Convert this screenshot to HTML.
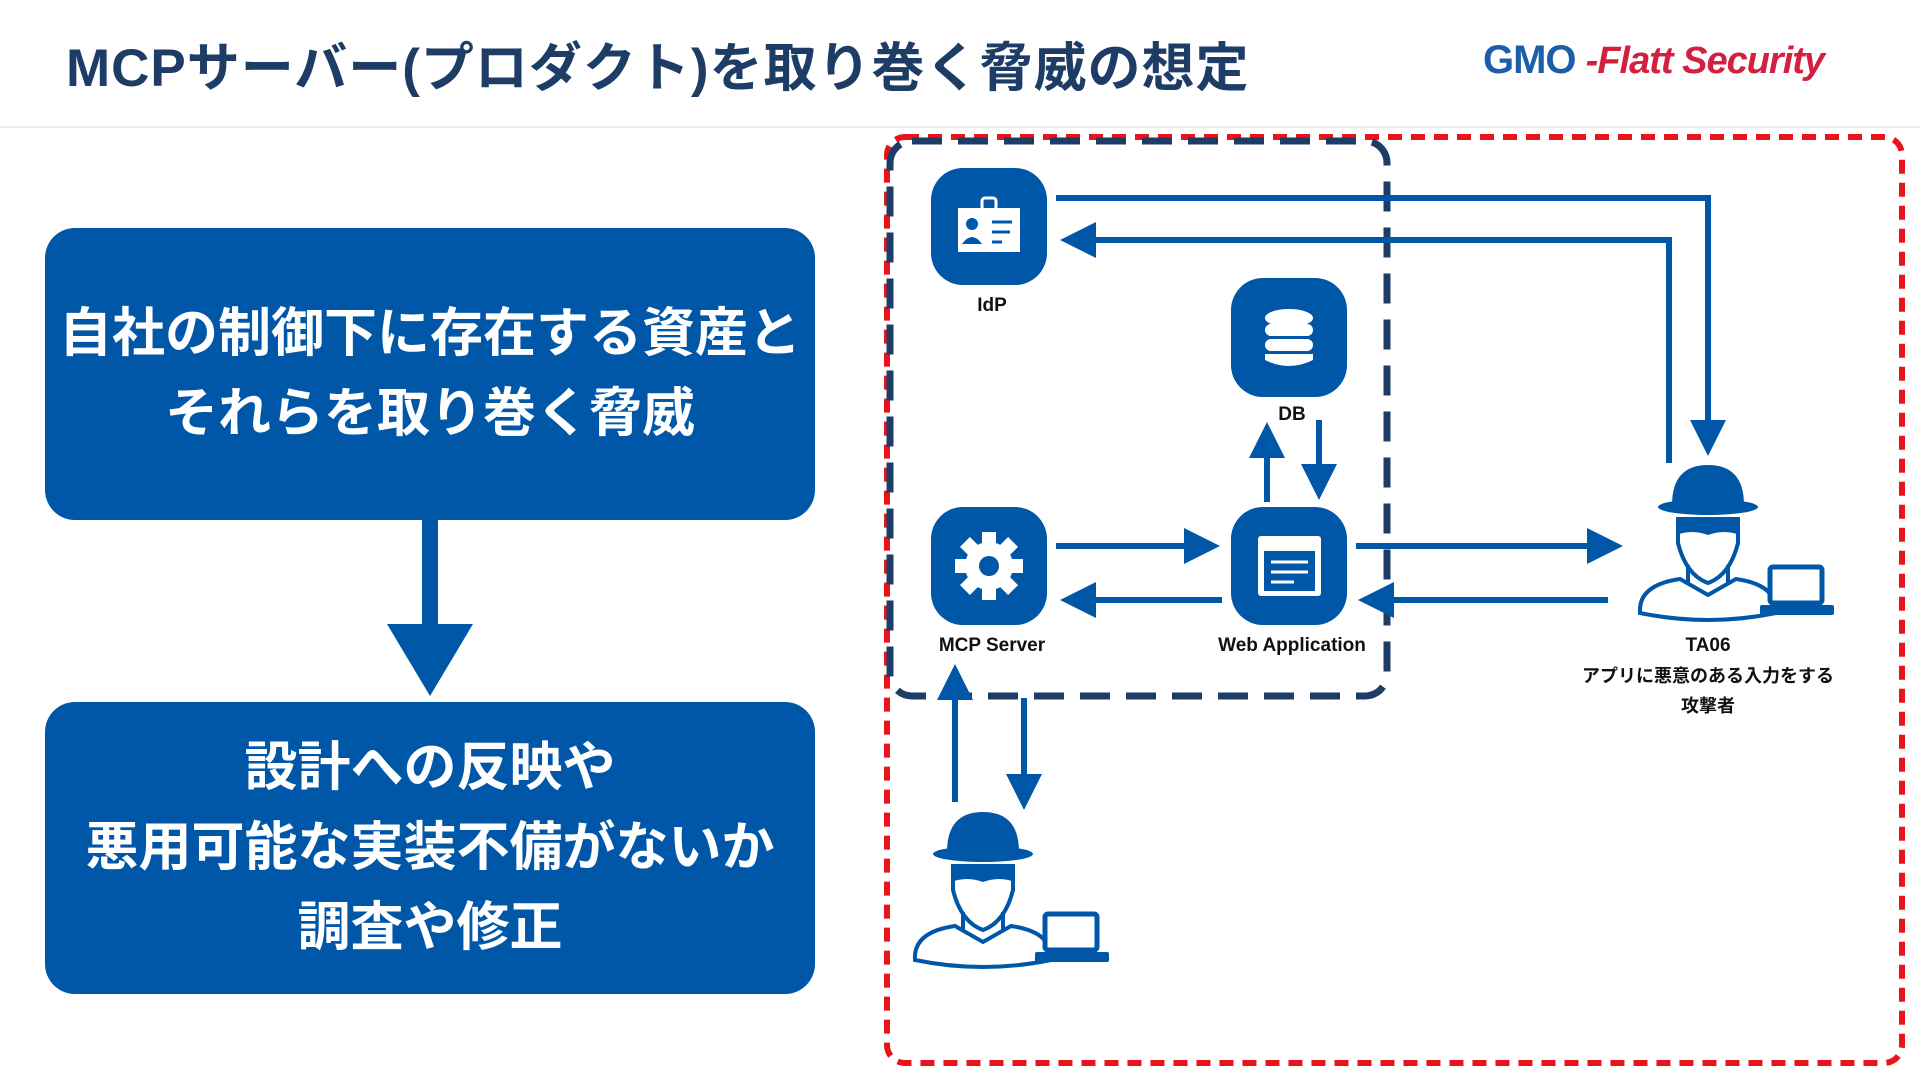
<!DOCTYPE html>
<html><head><meta charset="utf-8"><style>
body{margin:0;width:1920px;height:1080px;background:#fff;position:relative;overflow:hidden;font-family:"Liberation Sans","Noto Sans CJK JP",sans-serif}
.t{position:absolute;left:66px;top:26px;font-size:53px;font-weight:bold;color:#1d3c66;letter-spacing:1px}
.hl{position:absolute;left:0;top:126px;width:1920px;height:2px;background:#eee}
.box{position:absolute;left:45px;width:770px;height:292px;background:#0057a8;border-radius:30px;color:#fff;font-weight:bold;font-size:53px;text-align:center;display:flex;flex-direction:column;justify-content:center;line-height:80px}
.logo{position:absolute;left:1483px;top:38px;font-weight:bold;font-size:40px;color:#1d5ea8;letter-spacing:-1px}
.logo i{color:#d3203f;font-size:38px}
</style></head><body>
<div class="t">MCPサーバー(プロダクト)を取り巻く脅威の想定</div>
<div class="logo">GMO <i>-Flatt Security</i></div>
<div class="hl"></div>
<div class="box" style="top:228px">自社の制御下に存在する資産と<br>それらを取り巻く脅威</div>
<div class="box" style="top:702px">設計への反映や<br>悪用可能な実装不備がないか<br>調査や修正</div>
<svg width="1920" height="1080" style="position:absolute;left:0;top:0" font-family="Liberation Sans, Noto Sans CJK JP, sans-serif">
<defs>
<g id="atk">
<path d="M-36 40 Q-36 0 0 0 Q36 0 36 40 Z" fill="#0057a8"/>
<ellipse cx="0" cy="42" rx="50" ry="8" fill="#0057a8"/>
<path d="M-30 52 L-30 78 Q-22 110 0 118 Q22 110 30 78 L30 52" fill="none" stroke="#0057a8" stroke-width="4"/>
<path d="M-32 52 L32 52 L32 70 Q16 64 0 70 Q-16 64 -32 70 Z" fill="#0057a8"/>
<path d="M-20 100 L-20 118 M20 100 L20 118" stroke="#0057a8" stroke-width="4"/>
<path d="M-68 148 Q-70 120 -28 114 L0 130 L28 114 Q70 120 68 148 Q0 162 -68 148 Z" fill="none" stroke="#0057a8" stroke-width="4"/>
<rect x="62" y="102" width="52" height="36" rx="3" fill="#fff" stroke="#0057a8" stroke-width="5"/>
<rect x="52" y="140" width="74" height="10" rx="2" fill="#0057a8"/>
</g>
<marker id="ah" markerWidth="6" markerHeight="6" refX="2" refY="3" orient="auto" markerUnits="strokeWidth"><path d="M0 0 L6 3 L0 6 Z" fill="#0057a8"/></marker>
</defs>
<rect x="422" y="520" width="16" height="106" fill="#0057a8"/>
<path d="M387 624 L473 624 L430 696 Z" fill="#0057a8"/>
<rect x="887" y="137" width="1015" height="926" rx="18" fill="none" stroke="#e8141b" stroke-width="6" stroke-dasharray="14 9"/>
<rect x="890" y="141" width="497" height="555" rx="22" fill="none" stroke="#1d3c66" stroke-width="7" stroke-dasharray="30 16"/>
<g fill="#0057a8">
<rect x="931" y="168" width="116" height="117" rx="32"/>
<rect x="1231" y="278" width="116" height="119" rx="32"/>
<rect x="931" y="507" width="116" height="118" rx="32"/>
<rect x="1231" y="507" width="116" height="118" rx="32"/>
</g>
<rect x="958" y="208" width="62" height="44" fill="#fff"/>
<rect x="982" y="198" width="14" height="12" rx="3" fill="none" stroke="#fff" stroke-width="3"/>
<circle cx="972" cy="224" r="6" fill="#0057a8"/><path d="M962 244 Q972 230 982 244 Z" fill="#0057a8"/>
<path d="M992 222 H1012 M992 232 H1010 M992 242 H1002" stroke="#0057a8" stroke-width="3"/>
<g fill="#fff"><ellipse cx="1289" cy="318" rx="24" ry="9"/><rect x="1265" y="324" width="48" height="12" rx="6"/><rect x="1265" y="339" width="48" height="12" rx="6"/><path d="M1265 354 H1313 V360 Q1289 372 1265 360 Z"/></g>
<g transform="translate(989,566)" fill="#fff">
<circle r="24"/>
<g><rect x="-7" y="-34" width="14" height="68"/><rect x="-7" y="-34" width="14" height="68" transform="rotate(45)"/><rect x="-7" y="-34" width="14" height="68" transform="rotate(90)"/><rect x="-7" y="-34" width="14" height="68" transform="rotate(135)"/></g>
<circle r="10" fill="#0057a8"/>
</g>
<rect x="1258" y="536" width="63" height="60" rx="3" fill="#fff"/>
<rect x="1264" y="551" width="51" height="40" fill="#0057a8"/>
<path d="M1271 562 H1308 M1271 572 H1308 M1271 582 H1294" stroke="#fff" stroke-width="3"/>
<g font-size="19" font-weight="bold" fill="#111" text-anchor="middle">
<text x="992" y="311">IdP</text>
<text x="1292" y="420">DB</text>
<text x="992" y="651">MCP Server</text>
<text x="1292" y="651">Web Application</text>
<text x="1708" y="651">TA06</text>
<text x="1708" y="682" font-size="18">アプリに悪意のある入力をする</text>
<text x="1708" y="712" font-size="18">攻撃者</text>
</g>
<use href="#atk" x="1708" y="465"/>
<use href="#atk" x="983" y="812"/>
<g stroke="#0057a8" stroke-width="6" fill="none" marker-end="url(#ah)">
<path d="M1056 198 H1708 V432"/>
<path d="M1669 463 V240 H1084"/>
<path d="M1056 546 H1196"/>
<path d="M1222 600 H1084"/>
<path d="M1356 546 H1599"/>
<path d="M1608 600 H1382"/>
<path d="M1267 502 V446"/>
<path d="M1319 420 V476"/>
<path d="M955 802 V688"/>
<path d="M1024 698 V786"/>
</g>
</svg>
</body></html>
